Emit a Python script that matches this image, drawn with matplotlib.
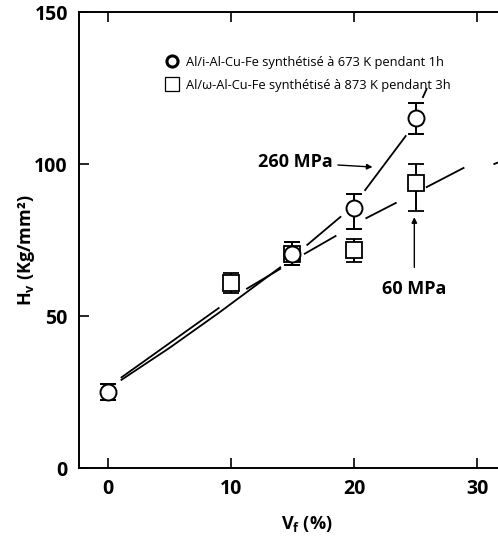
import numpy as np
import matplotlib
matplotlib.use("Agg")
import matplotlib.pyplot as plt
from matplotlib.lines import Line2D

plt.rcParams['font.family'] = ['Open Sans', 'DejaVu Sans']
plt.rcParams['mathtext.fontset'] = 'custom'
plt.rcParams['mathtext.rm'] = 'Open Sans'
plt.rcParams['mathtext.bf'] = 'Open Sans:bold'

# points mesurés (Vf %, Hv)
vf_circle = [0, 15, 20, 25]
hv_circle = [25, 70.5, 85.5, 115]
err_circle_lo = [2.6, 3.7, 7.0, 5.0]
err_circle_hi = [2.6, 3.7, 4.5, 5.0]

vf_square = [10, 15, 20, 25]
hv_square = [61, 70.5, 71.7, 93.8]
err_square_lo = [3.4, 3.7, 3.9, 9.3]
err_square_hi = [3.1, 3.7, 3.6, 6.2]

# courbes tracées à la main (segments séparés par NaN)
fit_circle_x = [1.1, 5, 9, 14, np.nan, 16.2, 18.9, np.nan, 20.9, 24.2, np.nan, 25.6, 25.9]
fit_circle_y = [29, 39.5, 51, 66, np.nan, 73.4, 82.6, np.nan, 91.4, 109.2, np.nan, 122, 124.7]

fit_square_x = [1.1, 9, np.nan, 11.3, 14, np.nan, 16, 18.5, np.nan, 21, 23.4, np.nan, 25.9, 28.9, np.nan, 31.4, 32]
fit_square_y = [29.8, 52.6, np.nan, 59, 65.5, np.nan, 70.5, 76.3, np.nan, 82.2, 87.2, np.nan, 92.4, 98.7, np.nan, 100, 101]

label_circle = "Al/i-Al-Cu-Fe synthétisé à 673 K pendant 1h"
label_square = "Al/ω-Al-Cu-Fe synthétisé à 873 K pendant 3h"

fig = plt.figure(figsize=(4.98, 5.36), dpi=100)
ax = fig.add_axes([79 / 498, 1 - 468 / 536, 1 - 79 / 498, (468 - 12) / 536])

ax.plot(fit_circle_x, fit_circle_y, color='black', lw=1.3, zorder=2)
ax.plot(fit_square_x, fit_square_y, color='black', lw=1.3, zorder=2)

ax.errorbar(vf_square, hv_square, yerr=[err_square_lo, err_square_hi], fmt='s',
            ms=11, mfc='white', mec='black', mew=1.3, ecolor='black',
            elinewidth=1.4, capsize=5.5, capthick=1.6, zorder=3)
ax.errorbar(vf_circle, hv_circle, yerr=[err_circle_lo, err_circle_hi], fmt='o',
            ms=11.5, mfc='white', mec='black', mew=1.4, ecolor='black',
            elinewidth=1.4, capsize=5.5, capthick=1.6, zorder=4)

# annotations
ax.annotate('260 MPa', xy=(21.5, 99), xytext=(15.2, 100.5), ha='center', va='center',
            fontsize=13, fontweight='bold',
            arrowprops=dict(arrowstyle='-|>', color='black', lw=1.0, mutation_scale=8,
                            shrinkA=2, shrinkB=0))
ax.annotate('', xy=(24.9, 82.5), xytext=(24.9, 66),
            arrowprops=dict(arrowstyle='-|>', color='black', lw=1.0, mutation_scale=8,
                            shrinkA=0, shrinkB=0))
ax.text(24.9, 59, '60 MPa', ha='center', va='center', fontsize=13, fontweight='bold')

handles = [Line2D([], [], ls='none', marker='o', ms=8, mfc='white', mec='black', mew=2.2),
           Line2D([], [], ls='none', marker='s', ms=10, mfc='white', mec='black', mew=0.9)]
ax.legend(handles, [label_circle, label_square], loc='upper left',
          bbox_to_anchor=(0.19, 0.915), frameon=False, fontsize=9.3,
          handletextpad=0.5, labelspacing=0.75, handlelength=1.2, borderaxespad=0)

ax.set_xlim(-2.35, 31.7)
ax.set_ylim(0, 150)
ax.set_xticks([0, 10, 20, 30])
ax.set_yticks([0, 50, 100, 150])
ax.spines['right'].set_visible(False)
for s in ['left', 'top', 'bottom']:
    ax.spines[s].set_linewidth(1.4)
ax.tick_params(direction='in', length=7, width=1.2, labelsize=14, top=True, pad=8)
for lab in ax.get_xticklabels() + ax.get_yticklabels():
    lab.set_fontweight('bold')

ax.set_xlabel(r'$\mathbf{V_f}$ (%)', fontsize=13, fontweight='bold')
ax.set_ylabel(r'$\mathbf{H_v}$ (Kg/mm²)', fontsize=13, fontweight='bold')
ax.xaxis.set_label_coords(0.544, -0.100)
ax.yaxis.set_label_coords(-0.100, 0.478)

fig.savefig('out.png', dpi=100)
